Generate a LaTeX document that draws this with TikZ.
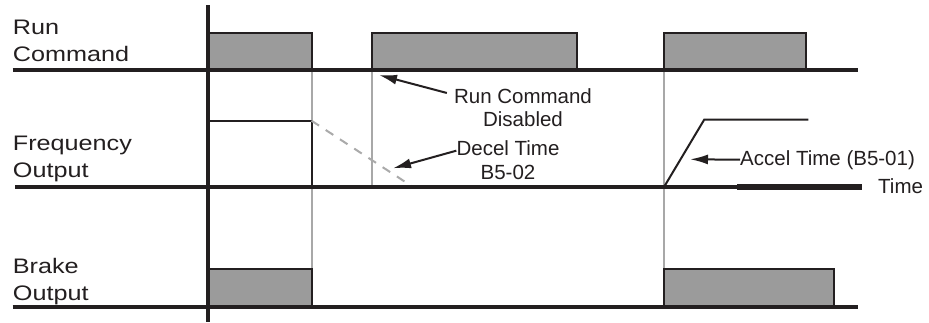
\documentclass[tikz,border=0pt]{standalone}
\usepackage{fontspec}
\setmainfont{Liberation Sans}
\usetikzlibrary{arrows.meta}
\definecolor{dk}{HTML}{231F20}
\definecolor{pulsefill}{HTML}{9B9B9B}
\definecolor{guide}{HTML}{A8A8A8}
\definecolor{dashgray}{HTML}{AAAAAA}
\newcommand{\wide}[1]{\scalebox{1.2}[1]{#1}}
\begin{document}
\begin{tikzpicture}[x=1pt,y=-1pt,
  baseline/.style={draw=dk,line width=4pt},
  sig/.style={draw=dk,line width=2pt},
  pulse/.style={draw=dk,fill=pulsefill,line width=2pt},
  guideline/.style={draw=guide,line width=2pt},
  rowlabel/.style={anchor=base west,align=left,inner sep=0pt,font=\fontsize{21}{27}\selectfont,text=dk},
  note/.style={inner sep=0pt,font=\fontsize{20.5}{24}\selectfont,text=dk},
  arr/.style={draw=dk,line width=2pt,-{Latex[length=18pt,width=10pt]}}]
\useasboundingbox[fill=white] (0,0) rectangle (929,322);
% guide lines
\draw[guideline] (311.5,70) -- (311.5,306.7);
\draw[guideline] (372.3,70) -- (372.3,187);
\draw[guideline] (664,70) -- (664,306.7);
% run command pulses
\draw[pulse] (208,70) -- (208,32.7) -- (311.5,32.7) -- (311.5,70);
\draw[pulse] (372.3,70) -- (372.3,32.7) -- (576.7,32.7) -- (576.7,70);
\draw[pulse] (664,70) -- (664,32.7) -- (806,32.7) -- (806,70);
% brake pulses
\draw[pulse] (208,306.7) -- (208,269) -- (311.5,269) -- (311.5,306.7);
\draw[pulse] (664,306.7) -- (664,269.3) -- (834.3,269.3) -- (834.3,306.7);
% frequency output
\draw[sig] (208,120.7) -- (311.5,120.7) -- (311.5,187);
\draw[draw=dashgray,line width=2pt,dash pattern=on 9pt off 8pt] (311.5,120.7) -- (413,187);
\draw[sig] (664,187) -- (704.3,119.5) -- (808.3,119.5);
% base lines
\draw[baseline] (12.7,70) -- (858.3,70);
\draw[baseline] (15,187) -- (862,187);
\draw[draw=dk,line width=6pt] (737,187) -- (862,187);
\draw[baseline] (12.7,306.7) -- (857.7,306.7);
\draw[baseline] (208,5) -- (208,322);
% row labels
\node[rowlabel] (runlbl) at (12.7,61.7) {\wide{Run}\\\wide{Command}};
\node[rowlabel] (freqlbl) at (12.7,177.5) {\wide{Frequency}\\\wide{Output}};
\node[rowlabel] (brakelbl) at (12.7,300) {\wide{Brake}\\\wide{Output}};
% notes
\node[note,anchor=base] (rc1) at (523,103.3) {Run Command};
\node[note,anchor=base] (rc2) at (523,126) {Disabled};
\node[note,anchor=base] (dc1) at (508,155) {Decel Time};
\node[note,anchor=base] (dc2) at (508,179) {B5-02};
\node[note,anchor=base west] (acc) at (740,165) {Accel Time (B5-01)};
\node[note,anchor=base west] (timelbl) at (878,193) {Time};
\coordinate (tipA) at (379,75);
\coordinate (tipB) at (393,168.3);
\coordinate (tipC) at (690,159.3);
\draw[arr] ([xshift=-7pt,yshift=3pt]rc1.west) -- (tipA);
\draw[arr] ([yshift=-3pt]dc1.west) -- (tipB);
\draw[arr] (acc.west) -- (tipC);
\end{tikzpicture}
\end{document}
